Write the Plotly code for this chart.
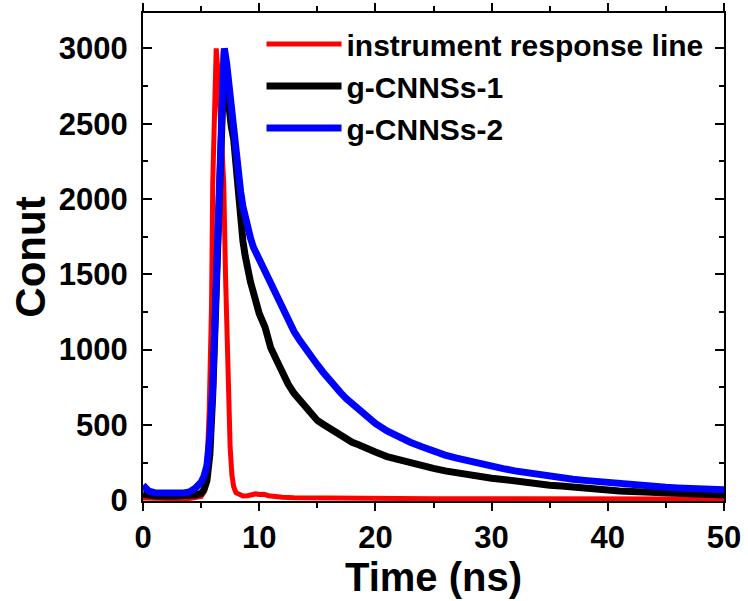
import plotly.graph_objects as go

# ---------------- data ----------------
irf_t = [0, 1, 2, 3, 4, 4.5, 5.0, 5.3, 5.5, 5.7, 5.9, 6.0, 6.15, 6.3, 6.45, 6.6,
         6.8, 6.95, 7.1, 7.2, 7.35, 7.5, 7.65, 7.8, 8.0, 8.3, 8.6, 9.0, 9.3, 9.7,
         10.0, 10.4, 10.8, 11.5, 12, 13, 15, 20, 25, 30, 35, 40, 45, 50]
irf_y = [15, 12, 10, 10, 12, 15, 25, 60, 200, 600, 1300, 2100, 2700, 3000, 2850, 2600,
         2300, 2100, 1500, 1130, 700, 350, 170, 90, 50, 35, 28, 30, 38, 42,
         38, 40, 30, 22, 20, 17, 15, 12, 10, 10, 9, 8, 8, 8]

s1_t = [0, 0.5, 1, 1.5, 2, 2.5, 3, 3.5, 4, 4.5, 5, 5.25, 5.5, 5.75, 6.0, 6.25, 6.5,
        6.75, 7.0, 7.2, 7.4, 7.6, 7.8, 8.0, 8.2, 8.4, 8.6, 8.8, 9.0, 9.25, 9.5, 9.75,
        10, 10.5, 11, 11.5, 12, 12.5, 13, 13.5, 14, 14.5, 15, 15.5, 16, 16.5, 17,
        17.5, 18, 18.5, 19, 19.5, 20, 21, 22, 23, 24, 25, 26, 27, 28, 29, 30, 31,
        32, 33, 34, 35, 36, 37, 38, 39, 40, 41, 42, 43, 44, 45, 46, 47, 48, 49, 50]
s1_y = [40, 32, 28, 30, 26, 30, 28, 32, 30, 35, 45, 70, 130, 300, 700, 1250, 1900,
        2550, 2980, 2750, 2570, 2480, 2400, 2200, 2050, 1870, 1720, 1620, 1530, 1450, 1380, 1300,
        1240, 1150, 1010, 930, 840, 770, 710, 665, 610, 570, 530, 505, 480, 450, 425,
        410, 385, 370, 350, 338, 320, 290, 268, 248, 230, 212, 195, 180, 170, 158, 146, 138,
        126, 118, 108, 100, 94, 86, 80, 74, 68, 62, 58, 54, 50, 46, 43, 40, 38, 36, 35]

s2_t = [0, 0.25, 0.5, 1, 1.5, 2, 2.5, 3, 3.5, 4, 4.5, 5, 5.25, 5.5, 5.75, 6.0, 6.2,
        6.4, 6.6, 6.8, 7.0, 7.2, 7.4, 7.6, 7.8, 8.0, 8.2, 8.4, 8.6, 8.8, 9.0, 9.25,
        9.5, 9.75, 10, 10.5, 11, 11.5, 12, 12.5, 13, 13.5, 14, 14.5, 15, 15.5, 16,
        16.5, 17, 17.5, 18, 18.5, 19, 19.5, 20, 21, 22, 23, 24, 25, 26, 27, 28, 29,
        30, 31, 32, 33, 34, 35, 36, 37, 38, 39, 40, 41, 42, 43, 44, 45, 46, 47, 48, 49, 50]
s2_y = [100, 80, 60, 50, 48, 45, 50, 45, 48, 55, 80, 120, 160, 230, 420, 750, 1130,
        1650, 2125, 2600, 3000, 2900, 2750, 2680, 2500, 2350, 2130, 2050, 1950, 1870, 1800, 1740,
        1680, 1640, 1590, 1500, 1420, 1350, 1260, 1200, 1120, 1060, 1000, 960, 900, 850, 800,
        755, 715, 675, 640, 605, 572, 540, 510, 460, 420, 385, 355, 325, 300, 280, 260, 240,
        225, 210, 195, 182, 172, 160, 150, 140, 132, 124, 116, 108, 102, 96, 90, 86, 82, 78, 75, 72, 70]

names = ["instrument response line", "g-CNNSs-1", "g-CNNSs-2"]
colors = ["#ff0000", "#000000", "#0000ff"]

x_ticks = [0, 10, 20, 30, 40, 50]
y_ticks = [0, 500, 1000, 1500, 2000, 2500, 3000]

FONT = "Liberation Sans, Arial, sans-serif"

fig = go.Figure()
for (t, y, n, c, w) in [(irf_t, irf_y, names[0], colors[0], 5),
                        (s1_t, s1_y, names[1], colors[1], 7),
                        (s2_t, s2_y, names[2], colors[2], 7)]:
    fig.add_trace(go.Scatter(x=t, y=y, mode="lines", name=n,
                             line=dict(color=c, width=w)))

axis_common = dict(showgrid=False, zeroline=False, showline=True, linecolor="black",
                   linewidth=2, mirror="ticks", tickwidth=2, tickcolor="black",
                   automargin=False,
                   tickfont=dict(family=FONT, size=31, color="black", weight="bold"))

fig.update_xaxes(range=[0, 50], tickvals=x_ticks, ticks="outside", ticklen=8,
                 minor=dict(dtick=5, ticks="outside", ticklen=5, tickwidth=2, tickcolor="black"),
                 title=dict(text="<b>Time (ns)</b>", font=dict(family=FONT, size=40, color="black"),
                            standoff=6),
                 **axis_common)
fig.update_yaxes(range=[-5, 3235], tickvals=y_ticks, ticks="inside", ticklen=9,
                 minor=dict(dtick=250, ticks="inside", ticklen=5, tickwidth=2, tickcolor="black"),
                 ticklabelstandoff=7,
                 title=dict(text="<b>Conut</b>", font=dict(family=FONT, size=42, color="black"),
                            standoff=0),
                 **axis_common)

fig.update_layout(
    width=748, height=601,
    margin=dict(l=143, r=24, t=13, b=100),
    paper_bgcolor="white", plot_bgcolor="white",
    showlegend=True,
    legend=dict(x=0.204, y=0.99, xanchor="left", yanchor="top",
                bgcolor="rgba(0,0,0,0)", borderwidth=0, itemwidth=75,
                tracegroupgap=0,
                font=dict(family=FONT, size=30, color="black", weight="bold")),
)

fig.write_html("out.html", config={"displayModeBar": False},
               post_script="document.body.style.margin='0';document.body.style.overflow='hidden';")
